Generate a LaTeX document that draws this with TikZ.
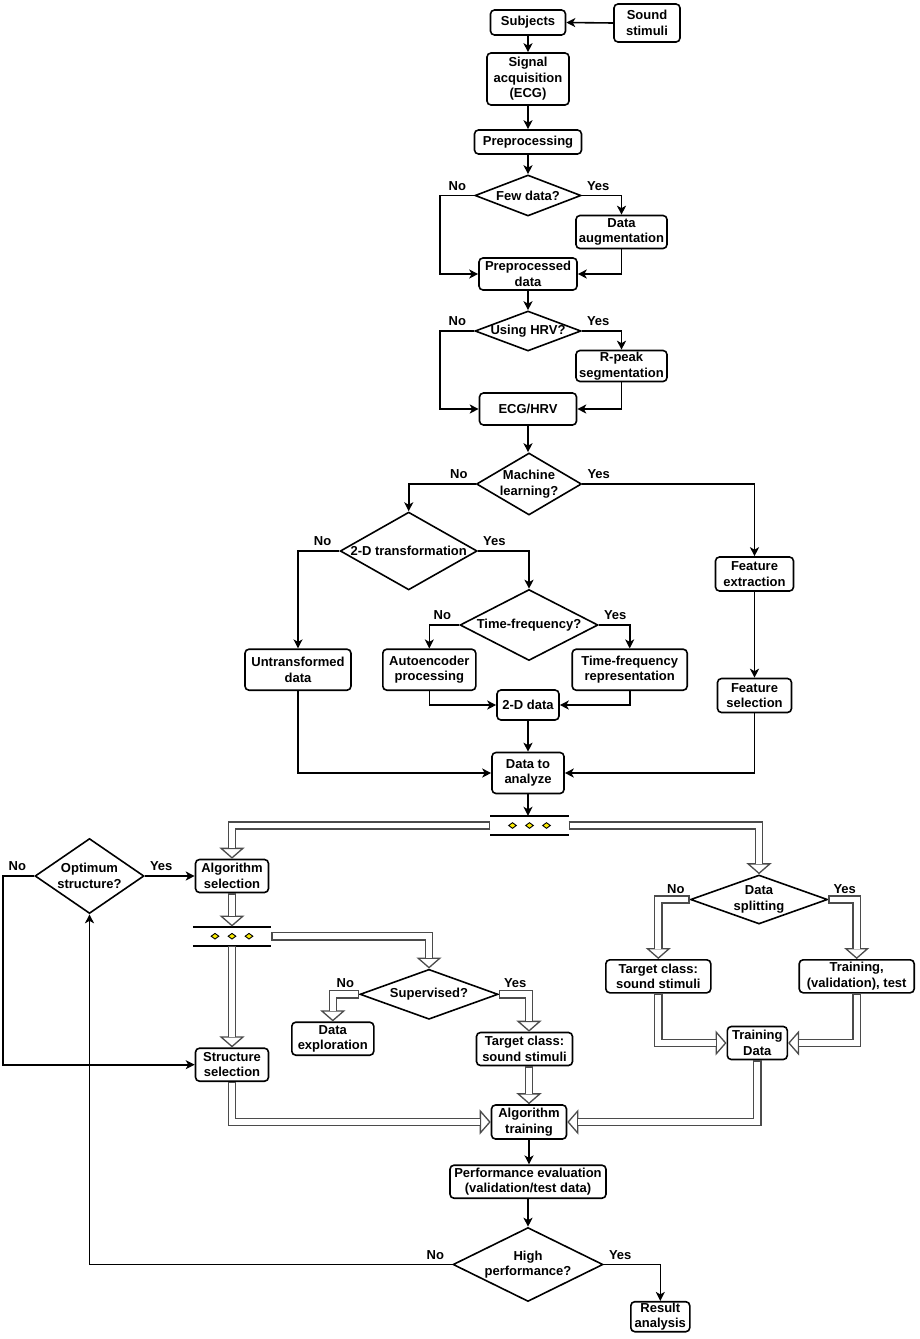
\documentclass[tikz,border=0pt]{standalone}
\usepackage{fontspec}
\setmainfont{Liberation Sans}
\usepackage{tikz}
\usetikzlibrary{arrows.meta,positioning,shapes.geometric}
\definecolor{pipegray}{RGB}{75,75,75}
\definecolor{dotyellow}{RGB}{250,235,0}

\begin{document}
\begin{tikzpicture}[
  x=1pt, y=-1pt,
  font=\fontsize{13}{15.5}\selectfont\bfseries,
  box/.style={draw, line width=1.6pt, rounded corners=4pt, align=center,
              inner sep=1pt, fill=white},
  sz/.style 2 args={minimum width=#1, minimum height=#2},
  dec/.style={diamond, draw, line width=1.6pt, align=center, fill=white,
              inner xsep=-20pt, inner ysep=-4pt},
  arr/.style={-{Stealth[length=9pt, width=9pt, inset=2.5pt]}, line width=1.6pt},
  pipe/.style={draw=pipegray, line width=8.6pt,
               -{Triangle[fill=white, length=11pt, width=25pt, line width=1.3pt]},
               postaction={draw=white, line width=5.8pt, -, shorten >=10.5pt, shorten <=1.3pt}},
  fork/.style={minimum width=78, minimum height=19, inner sep=0pt},
  barline/.style={line width=2pt},
  dot/.style={diamond, draw, fill=dotyellow, line width=0.9pt, inner sep=0pt,
              minimum width=8, minimum height=6},
  lbl/.style={inner sep=1pt}
]
\useasboundingbox (0,0) rectangle (919,1339);

% ---- column positions ----
\def\xM{528}    % main column
\def\xL{232}    % algorithm column
\def\xS{621.5}  % side branches

% ---- acquisition and preprocessing ----
\node[box, sz={66}{38}] (sound) at (647,23) {Sound\\stimuli};
\node[box, sz={75}{25}] (subj) at (\xM,22.5) {Subjects};
\node[box, sz={82}{52}] (sig) at (\xM,79) {Signal\\acquisition\\(ECG)};
\node[box, sz={107}{24}] (prep) at (\xM,142) {Preprocessing};
\node[dec, sz={106}{41}] (few) at (\xM,195.5) {Few data?};
\node[box, sz={91}{33}] (aug) at (\xS,232) {Data\\augmentation};
\node[box, sz={98}{32}] (pdata) at (\xM,274) {Preprocessed\\data};
\node[dec, sz={106}{40}] (hrv) at (\xM,331) {Using HRV?};
\node[box, sz={91}{31}] (rpeak) at (\xS,366) {R-peak\\segmentation};
\node[box, sz={97}{32}] (ecg) at (\xM,409) {ECG/HRV};

% ---- analysis branches ----
\node[dec, sz={105}{62}] (ml) at (529,484) {Machine\\learning?};
\node[dec, sz={137}{71}] (td) at (408.7,551) {2-D transformation};
\node[dec, sz={138}{71}] (tf) at (529,625) {Time-frequency?};
\node[box, sz={106}{41}] (untr) at (298,669.7) {Untransformed\\data};
\node[box, sz={93}{41}] (auto) at (429.3,669.7) {Autoencoder\\processing};
\node[box, sz={115}{41}] (tfr) at (629.7,669.7) {Time-frequency\\representation};
\node[box, sz={62}{30}] (d2) at (\xM,705) {2-D data};
\node[box, sz={78}{34}] (fext) at (754.5,574) {Feature\\extraction};
\node[box, sz={74}{34}] (fsel) at (754.5,695.5) {Feature\\selection};
\node[box, sz={72}{41}] (dta) at (\xM,773) {Data to\\analyze};
\node[fork] (f1) at (529.5,825.5) {};

% ---- model building ----
\node[dec, sz={109}{75}] (opt) at (89.5,876) {Optimum\\structure?};
\node[box, sz={73}{33}] (algsel) at (\xL,876) {Algorithm\\selection};
\node[fork] (f2) at (\xL,936.2) {};
\node[box, sz={73}{33}] (strsel) at (\xL,1064.7) {Structure\\selection};
\node[dec, sz={138}{50}] (sup) at (429,994.3) {Supervised?};
\node[box, sz={82}{33}] (dexp) at (332.8,1038.7) {Data\\exploration};
\node[box, sz={96}{33}] (tcA) at (524.5,1049) {Target class:\\sound stimuli};
\node[dec, sz={137}{49}] (split) at (759,899.5) {Data\\splitting};
\node[box, sz={105}{33}] (tcB) at (658.3,976.3) {Target class:\\sound stimuli};
\node[box, sz={115}{33}] (trval) at (856.7,976.3) {Training,\\(validation), test};
\node[box, sz={60}{33}] (trdata) at (757.3,1043) {Training\\Data};
\node[box, sz={75}{34}] (algtr) at (529,1122) {Algorithm\\training};
\node[box, sz={156}{33}] (perf) at (\xM,1181.7) {Performance evaluation\\(validation/test data)};
\node[dec, sz={150}{74}] (high) at (\xM,1264.5) {High\\performance?};
\node[box, sz={59}{30}] (res) at (660.3,1316.7) {Result\\analysis};

% ---- fork bars ----
\foreach \f in {f1,f2}{
  \draw[barline] (\f.north west) -- (\f.north east) (\f.south west) -- (\f.south east);
  \foreach \dx/\k in {-17/a,0/b,17/c}
    \node[dot] (\f\k) at ([xshift=\dx]\f.center) {};
}

% ---- thin arrows ----
\draw[arr] (sound.west) -- (subj.east);
\draw[arr] (subj.south) -- (sig.north);
\draw[arr] (sig.south) -- (prep.north);
\draw[arr] (prep.south) -- (few.north);
\draw[arr] (few.west) -- ++(-34,0) |- (pdata.west);
\draw[arr] (few.east) -| (aug.north);
\draw[arr] (aug.south) |- (pdata.east);
\draw[arr] (pdata.south) -- (hrv.north);
\draw[arr] (hrv.west) -- ++(-34,0) |- (ecg.west);
\draw[arr] (hrv.east) -| (rpeak.north);
\draw[arr] (rpeak.south) |- (ecg.east);
\draw[arr] (ecg.south) -- (ecg.south |- ml.north);
\draw[arr] (ml.west) -| (td.north);
\draw[arr] (ml.east) -| (fext.north);
\draw[arr] (td.west) -| (untr.north);
\draw[arr] (td.east) -| (tf.north);
\draw[arr] (tf.west) -| (auto.north);
\draw[arr] (tf.east) -| (tfr.north);
\draw[arr] (auto.south) |- (d2.west);
\draw[arr] (tfr.south) |- (d2.east);
\draw[arr] (d2.south) -- (dta.north);
\draw[arr] (fext.south) -- (fsel.north);
\draw[arr] (untr.south) |- (dta.west);
\draw[arr] (fsel.south) |- (dta.east);
\draw[arr] (dta.south) -- (dta.south |- f1.north);
\draw[arr] (opt.east) -- (algsel.west);
\draw[arr] (opt.west) -- ++(-31,0) |- (strsel.west);
\draw[arr] (algtr.south) -- (algtr.south |- perf.north);
\draw[arr] (perf.south) -- (high.north);
\draw[arr] (high.east) -| (res.north);
\draw[arr] (high.west) -| (opt.south);

% ---- pipes ----
\draw[pipe] (f1.west) -| (algsel.north);
\draw[pipe] (f1.east) -| (split.north);
\draw[pipe] (algsel.south) -- (f2.north);
\draw[pipe] (f2.south) -- (strsel.north);
\draw[pipe] (f2.east) -| (sup.north);
\draw[pipe] (sup.west) -| (dexp.north);
\draw[pipe] (sup.east) -| (tcA.north -| algtr.north);
\draw[pipe] (tcA.south -| algtr.north) -- (algtr.north);
\draw[pipe] (strsel.south) |- (algtr.west);
\draw[pipe] (split.west) -| (tcB.north);
\draw[pipe] (split.east) -| (trval.north);
\draw[pipe] (tcB.south) |- (trdata.west);
\draw[pipe] (trval.south) |- (trdata.east);
\draw[pipe] (trdata.south) |- (algtr.east);

% ---- yes / no ----
\foreach \d in {few,hrv,ml,td,tf,opt,high}{
  \node[lbl, above left=4pt and 7pt of \d.west] (\d no) {No};
  \node[lbl, above right=4pt and 4pt of \d.east] (\d yes) {Yes};
}
\foreach \d in {sup,split}{
  \node[lbl, above left=5pt and 4pt of \d.west] (\d no) {No};
  \node[lbl, above right=5pt and 4pt of \d.east] (\d yes) {Yes};
}

\end{tikzpicture}
\end{document}
